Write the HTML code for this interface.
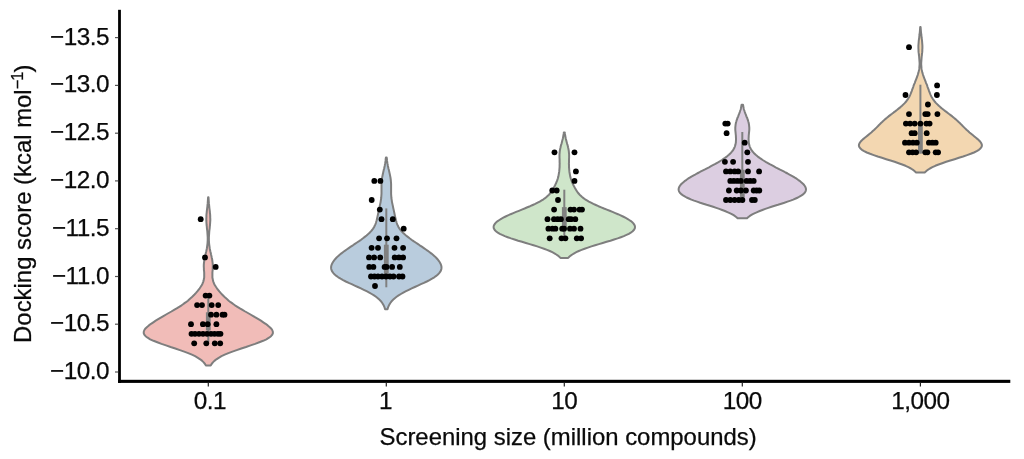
<!DOCTYPE html>
<html lang="en"><head><meta charset="utf-8"><title>Docking score vs screening size</title>
<style>
html,body{margin:0;padding:0;background:#fff;}
body{width:1024px;height:459px;overflow:hidden;}
svg{display:block;}
text{font-family:"Liberation Sans",Arial,Helvetica,sans-serif;fill:#0a0a0a;stroke:#0a0a0a;stroke-width:0.25px;}
.tk{letter-spacing:-0.5px;}
</style></head><body>
<svg width="1024" height="459" viewBox="0 0 1024 459">
<rect width="1024" height="459" fill="#ffffff"/>
<path d="M208.1 197.2 L208.0 198.7 L207.9 200.3 L207.8 201.8 L207.7 203.4 L207.5 204.9 L207.4 206.5 L207.2 208.0 L207.0 209.6 L206.8 211.1 L206.7 212.6 L206.5 214.2 L206.4 215.7 L206.4 217.3 L206.3 218.8 L206.3 220.4 L206.4 221.9 L206.5 223.4 L206.6 225.0 L206.8 226.5 L206.9 228.1 L207.1 229.6 L207.3 231.2 L207.4 232.7 L207.5 234.3 L207.6 235.8 L207.7 237.3 L207.7 238.9 L207.7 240.4 L207.6 242.0 L207.5 243.5 L207.3 245.1 L207.1 246.6 L206.9 248.2 L206.6 249.7 L206.3 251.2 L205.9 252.8 L205.6 254.3 L205.2 255.9 L204.9 257.4 L204.5 259.0 L204.3 260.5 L204.1 262.0 L203.9 263.6 L203.8 265.1 L203.8 266.7 L203.9 268.2 L203.9 269.8 L204.1 271.3 L204.2 272.9 L204.2 274.4 L204.2 275.9 L204.2 277.5 L203.9 279.0 L203.6 280.6 L203.1 282.1 L202.5 283.7 L201.7 285.2 L200.7 286.8 L199.7 288.3 L198.5 289.8 L197.3 291.4 L196.0 292.9 L194.5 294.5 L193.0 296.0 L191.4 297.6 L189.7 299.1 L187.9 300.7 L186.0 302.2 L183.8 303.7 L181.6 305.3 L179.2 306.8 L176.7 308.4 L174.1 309.9 L171.4 311.5 L168.7 313.0 L166.1 314.5 L163.4 316.1 L160.8 317.6 L158.2 319.2 L155.7 320.7 L153.3 322.3 L151.0 323.8 L148.9 325.4 L147.1 326.9 L145.5 328.4 L144.4 330.0 L143.8 331.5 L143.7 333.1 L144.3 334.6 L145.6 336.2 L147.6 337.7 L150.2 339.3 L153.5 340.8 L157.3 342.3 L161.5 343.9 L166.0 345.4 L170.6 347.0 L175.3 348.5 L179.9 350.1 L184.2 351.6 L188.2 353.1 L191.9 354.7 L195.1 356.2 L197.9 357.8 L200.2 359.3 L202.2 360.9 L203.7 362.4 L205.0 364.0 L205.9 365.5 L210.7 365.5 L211.6 364.0 L212.9 362.4 L214.4 360.9 L216.4 359.3 L218.7 357.8 L221.5 356.2 L224.7 354.7 L228.4 353.1 L232.4 351.6 L236.7 350.1 L241.3 348.5 L246.0 347.0 L250.6 345.4 L255.1 343.9 L259.3 342.3 L263.1 340.8 L266.4 339.3 L269.0 337.7 L271.0 336.2 L272.3 334.6 L272.9 333.1 L272.8 331.5 L272.2 330.0 L271.1 328.4 L269.5 326.9 L267.7 325.4 L265.6 323.8 L263.3 322.3 L260.9 320.7 L258.4 319.2 L255.8 317.6 L253.2 316.1 L250.5 314.5 L247.9 313.0 L245.2 311.5 L242.5 309.9 L239.9 308.4 L237.4 306.8 L235.0 305.3 L232.8 303.7 L230.6 302.2 L228.7 300.7 L226.9 299.1 L225.2 297.6 L223.6 296.0 L222.1 294.5 L220.6 292.9 L219.3 291.4 L218.1 289.8 L216.9 288.3 L215.9 286.8 L214.9 285.2 L214.1 283.7 L213.5 282.1 L213.0 280.6 L212.7 279.0 L212.4 277.5 L212.4 275.9 L212.4 274.4 L212.4 272.9 L212.5 271.3 L212.7 269.8 L212.7 268.2 L212.8 266.7 L212.8 265.1 L212.7 263.6 L212.5 262.0 L212.3 260.5 L212.1 259.0 L211.7 257.4 L211.4 255.9 L211.0 254.3 L210.7 252.8 L210.3 251.2 L210.0 249.7 L209.7 248.2 L209.5 246.6 L209.3 245.1 L209.1 243.5 L209.0 242.0 L208.9 240.4 L208.9 238.9 L208.9 237.3 L209.0 235.8 L209.1 234.3 L209.2 232.7 L209.3 231.2 L209.5 229.6 L209.7 228.1 L209.8 226.5 L210.0 225.0 L210.1 223.4 L210.2 221.9 L210.3 220.4 L210.3 218.8 L210.2 217.3 L210.2 215.7 L210.1 214.2 L209.9 212.6 L209.8 211.1 L209.6 209.6 L209.4 208.0 L209.2 206.5 L209.1 204.9 L208.9 203.4 L208.8 201.8 L208.7 200.3 L208.6 198.7 L208.5 197.2 Z" fill="#f1bcb8" stroke="#7e7e7e" stroke-width="2" stroke-linejoin="round"/>
<path d="M385.9 157.6 L385.7 159.0 L385.6 160.4 L385.4 161.8 L385.2 163.2 L384.9 164.6 L384.7 166.0 L384.4 167.3 L384.1 168.7 L383.7 170.1 L383.4 171.5 L383.1 172.9 L382.8 174.3 L382.5 175.7 L382.2 177.1 L382.0 178.5 L381.8 179.9 L381.7 181.3 L381.6 182.7 L381.5 184.0 L381.5 185.4 L381.5 186.8 L381.5 188.2 L381.5 189.6 L381.5 191.0 L381.5 192.4 L381.5 193.8 L381.4 195.2 L381.3 196.6 L381.2 198.0 L381.0 199.4 L380.8 200.7 L380.6 202.1 L380.3 203.5 L380.0 204.9 L379.7 206.3 L379.4 207.7 L379.1 209.1 L378.8 210.5 L378.5 211.9 L378.2 213.3 L377.9 214.7 L377.6 216.1 L377.3 217.4 L377.0 218.8 L376.7 220.2 L376.3 221.6 L375.9 223.0 L375.4 224.4 L374.7 225.8 L374.0 227.2 L373.1 228.6 L372.1 230.0 L370.9 231.4 L369.6 232.8 L368.2 234.1 L366.6 235.5 L364.8 236.9 L363.0 238.3 L361.1 239.7 L359.1 241.1 L357.0 242.5 L354.9 243.9 L352.9 245.3 L350.8 246.7 L348.7 248.1 L346.7 249.5 L344.8 250.8 L342.9 252.2 L341.1 253.6 L339.4 255.0 L337.8 256.4 L336.4 257.8 L335.1 259.2 L334.0 260.6 L333.0 262.0 L332.2 263.4 L331.6 264.8 L331.2 266.2 L331.1 267.5 L331.2 268.9 L331.6 270.3 L332.3 271.7 L333.4 273.1 L334.7 274.5 L336.4 275.9 L338.3 277.3 L340.6 278.7 L343.1 280.1 L345.8 281.5 L348.7 282.9 L351.7 284.2 L354.7 285.6 L357.8 287.0 L360.9 288.4 L363.8 289.8 L366.6 291.2 L369.3 292.6 L371.7 294.0 L374.0 295.4 L376.0 296.8 L377.8 298.2 L379.3 299.6 L380.7 300.9 L381.8 302.3 L382.7 303.7 L383.5 305.1 L384.2 306.5 L384.7 307.9 L385.1 309.3 L387.5 309.3 L387.9 307.9 L388.4 306.5 L389.1 305.1 L389.9 303.7 L390.8 302.3 L391.9 300.9 L393.3 299.6 L394.8 298.2 L396.6 296.8 L398.6 295.4 L400.9 294.0 L403.3 292.6 L406.0 291.2 L408.8 289.8 L411.7 288.4 L414.8 287.0 L417.9 285.6 L420.9 284.2 L423.9 282.9 L426.8 281.5 L429.5 280.1 L432.0 278.7 L434.3 277.3 L436.2 275.9 L437.9 274.5 L439.2 273.1 L440.3 271.7 L441.0 270.3 L441.4 268.9 L441.5 267.5 L441.4 266.2 L441.0 264.8 L440.4 263.4 L439.6 262.0 L438.6 260.6 L437.5 259.2 L436.2 257.8 L434.8 256.4 L433.2 255.0 L431.5 253.6 L429.7 252.2 L427.8 250.8 L425.9 249.5 L423.9 248.1 L421.8 246.7 L419.7 245.3 L417.7 243.9 L415.6 242.5 L413.5 241.1 L411.5 239.7 L409.6 238.3 L407.8 236.9 L406.0 235.5 L404.4 234.1 L403.0 232.8 L401.7 231.4 L400.5 230.0 L399.5 228.6 L398.6 227.2 L397.9 225.8 L397.2 224.4 L396.7 223.0 L396.3 221.6 L395.9 220.2 L395.6 218.8 L395.3 217.4 L395.0 216.1 L394.7 214.7 L394.4 213.3 L394.1 211.9 L393.8 210.5 L393.5 209.1 L393.2 207.7 L392.9 206.3 L392.6 204.9 L392.3 203.5 L392.0 202.1 L391.8 200.7 L391.6 199.4 L391.4 198.0 L391.3 196.6 L391.2 195.2 L391.1 193.8 L391.1 192.4 L391.1 191.0 L391.1 189.6 L391.1 188.2 L391.1 186.8 L391.1 185.4 L391.1 184.0 L391.0 182.7 L390.9 181.3 L390.8 179.9 L390.6 178.5 L390.4 177.1 L390.1 175.7 L389.8 174.3 L389.5 172.9 L389.2 171.5 L388.9 170.1 L388.5 168.7 L388.2 167.3 L387.9 166.0 L387.7 164.6 L387.4 163.2 L387.2 161.8 L387.0 160.4 L386.9 159.0 L386.7 157.6 Z" fill="#b9ccdd" stroke="#7e7e7e" stroke-width="2" stroke-linejoin="round"/>
<path d="M563.8 132.6 L563.7 133.7 L563.5 134.9 L563.3 136.0 L563.1 137.2 L562.9 138.3 L562.6 139.5 L562.3 140.6 L562.0 141.8 L561.7 142.9 L561.4 144.1 L561.0 145.2 L560.7 146.4 L560.5 147.5 L560.2 148.7 L560.0 149.8 L559.8 151.0 L559.7 152.1 L559.6 153.3 L559.5 154.4 L559.5 155.6 L559.5 156.7 L559.5 157.9 L559.6 159.0 L559.6 160.2 L559.6 161.3 L559.6 162.5 L559.7 163.6 L559.6 164.8 L559.6 165.9 L559.6 167.1 L559.5 168.2 L559.4 169.4 L559.3 170.5 L559.2 171.7 L559.0 172.8 L558.8 174.0 L558.6 175.1 L558.4 176.3 L558.1 177.4 L557.8 178.6 L557.4 179.7 L557.0 180.9 L556.5 182.0 L556.1 183.2 L555.5 184.3 L555.0 185.5 L554.4 186.6 L553.8 187.8 L553.1 188.9 L552.4 190.1 L551.7 191.2 L550.9 192.4 L550.0 193.5 L549.0 194.7 L547.8 195.8 L546.5 197.0 L545.1 198.1 L543.5 199.3 L541.7 200.4 L539.7 201.6 L537.6 202.7 L535.2 203.9 L532.8 205.0 L530.1 206.2 L527.4 207.3 L524.6 208.5 L521.8 209.6 L518.9 210.8 L516.1 211.9 L513.3 213.1 L510.6 214.2 L508.0 215.4 L505.6 216.5 L503.3 217.7 L501.2 218.8 L499.4 220.0 L497.7 221.1 L496.3 222.3 L495.2 223.4 L494.4 224.6 L493.8 225.7 L493.6 226.9 L493.7 228.0 L494.2 229.2 L495.0 230.3 L496.2 231.5 L497.8 232.6 L499.8 233.8 L502.1 234.9 L504.8 236.1 L507.7 237.2 L511.0 238.4 L514.5 239.5 L518.2 240.7 L522.0 241.8 L525.9 243.0 L529.7 244.1 L533.5 245.3 L537.2 246.4 L540.7 247.6 L544.0 248.7 L547.0 249.9 L549.8 251.0 L552.3 252.2 L554.4 253.3 L556.3 254.5 L557.9 255.6 L559.3 256.8 L560.4 257.9 L568.2 257.9 L569.3 256.8 L570.7 255.6 L572.3 254.5 L574.2 253.3 L576.3 252.2 L578.8 251.0 L581.6 249.9 L584.6 248.7 L587.9 247.6 L591.4 246.4 L595.1 245.3 L598.9 244.1 L602.7 243.0 L606.6 241.8 L610.4 240.7 L614.1 239.5 L617.6 238.4 L620.9 237.2 L623.8 236.1 L626.5 234.9 L628.8 233.8 L630.8 232.6 L632.4 231.5 L633.6 230.3 L634.4 229.2 L634.9 228.0 L635.0 226.9 L634.8 225.7 L634.2 224.6 L633.4 223.4 L632.3 222.3 L630.9 221.1 L629.2 220.0 L627.4 218.8 L625.3 217.7 L623.0 216.5 L620.6 215.4 L618.0 214.2 L615.3 213.1 L612.5 211.9 L609.7 210.8 L606.8 209.6 L604.0 208.5 L601.2 207.3 L598.5 206.2 L595.8 205.0 L593.4 203.9 L591.0 202.7 L588.9 201.6 L586.9 200.4 L585.1 199.3 L583.5 198.1 L582.1 197.0 L580.8 195.8 L579.6 194.7 L578.6 193.5 L577.7 192.4 L576.9 191.2 L576.2 190.1 L575.5 188.9 L574.8 187.8 L574.2 186.6 L573.6 185.5 L573.1 184.3 L572.5 183.2 L572.1 182.0 L571.6 180.9 L571.2 179.7 L570.8 178.6 L570.5 177.4 L570.2 176.3 L570.0 175.1 L569.8 174.0 L569.6 172.8 L569.4 171.7 L569.3 170.5 L569.2 169.4 L569.1 168.2 L569.0 167.1 L569.0 165.9 L569.0 164.8 L568.9 163.6 L569.0 162.5 L569.0 161.3 L569.0 160.2 L569.0 159.0 L569.1 157.9 L569.1 156.7 L569.1 155.6 L569.1 154.4 L569.0 153.3 L568.9 152.1 L568.8 151.0 L568.6 149.8 L568.4 148.7 L568.1 147.5 L567.9 146.4 L567.6 145.2 L567.2 144.1 L566.9 142.9 L566.6 141.8 L566.3 140.6 L566.0 139.5 L565.7 138.3 L565.5 137.2 L565.3 136.0 L565.1 134.9 L564.9 133.7 L564.8 132.6 Z" fill="#cfe6ca" stroke="#7e7e7e" stroke-width="2" stroke-linejoin="round"/>
<path d="M741.6 104.8 L741.4 105.8 L741.2 106.9 L741.0 107.9 L740.8 109.0 L740.5 110.0 L740.1 111.0 L739.8 112.1 L739.4 113.1 L739.0 114.2 L738.6 115.2 L738.2 116.3 L737.8 117.3 L737.3 118.3 L737.0 119.4 L736.6 120.4 L736.3 121.5 L736.0 122.5 L735.8 123.5 L735.6 124.6 L735.5 125.6 L735.4 126.7 L735.3 127.7 L735.3 128.7 L735.3 129.8 L735.4 130.8 L735.5 131.9 L735.6 132.9 L735.7 134.0 L735.8 135.0 L735.9 136.0 L735.9 137.1 L736.0 138.1 L736.0 139.2 L736.0 140.2 L735.9 141.2 L735.9 142.3 L735.7 143.3 L735.5 144.4 L735.2 145.4 L734.9 146.5 L734.5 147.5 L734.0 148.5 L733.4 149.6 L732.7 150.6 L731.9 151.7 L731.0 152.7 L730.0 153.7 L728.9 154.8 L727.7 155.8 L726.4 156.9 L725.0 157.9 L723.5 158.9 L721.9 160.0 L720.3 161.0 L718.5 162.1 L716.7 163.1 L714.9 164.2 L712.9 165.2 L711.0 166.2 L709.0 167.3 L707.0 168.3 L705.0 169.4 L703.0 170.4 L700.9 171.4 L699.0 172.5 L697.0 173.5 L695.1 174.6 L693.2 175.6 L691.4 176.6 L689.7 177.7 L688.0 178.7 L686.5 179.8 L685.0 180.8 L683.7 181.9 L682.5 182.9 L681.4 183.9 L680.5 185.0 L679.8 186.0 L679.2 187.1 L678.8 188.1 L678.6 189.1 L678.7 190.2 L679.0 191.2 L679.6 192.3 L680.4 193.3 L681.6 194.4 L683.0 195.4 L684.7 196.4 L686.6 197.5 L688.9 198.5 L691.4 199.6 L694.1 200.6 L697.1 201.6 L700.2 202.7 L703.3 203.7 L706.6 204.8 L709.9 205.8 L713.1 206.8 L716.3 207.9 L719.3 208.9 L722.2 210.0 L724.9 211.0 L727.4 212.1 L729.7 213.1 L731.8 214.1 L733.6 215.2 L735.1 216.2 L736.5 217.3 L737.6 218.3 L747.0 218.3 L748.1 217.3 L749.5 216.2 L751.0 215.2 L752.8 214.1 L754.9 213.1 L757.2 212.1 L759.7 211.0 L762.4 210.0 L765.3 208.9 L768.3 207.9 L771.5 206.8 L774.7 205.8 L778.0 204.8 L781.3 203.7 L784.4 202.7 L787.5 201.6 L790.5 200.6 L793.2 199.6 L795.7 198.5 L798.0 197.5 L799.9 196.4 L801.6 195.4 L803.0 194.4 L804.2 193.3 L805.0 192.3 L805.6 191.2 L805.9 190.2 L806.0 189.1 L805.8 188.1 L805.4 187.1 L804.8 186.0 L804.1 185.0 L803.2 183.9 L802.1 182.9 L800.9 181.9 L799.6 180.8 L798.1 179.8 L796.6 178.7 L794.9 177.7 L793.2 176.6 L791.4 175.6 L789.5 174.6 L787.6 173.5 L785.6 172.5 L783.7 171.4 L781.6 170.4 L779.6 169.4 L777.6 168.3 L775.6 167.3 L773.6 166.2 L771.7 165.2 L769.7 164.2 L767.9 163.1 L766.1 162.1 L764.3 161.0 L762.7 160.0 L761.1 158.9 L759.6 157.9 L758.2 156.9 L756.9 155.8 L755.7 154.8 L754.6 153.7 L753.6 152.7 L752.7 151.7 L751.9 150.6 L751.2 149.6 L750.6 148.5 L750.1 147.5 L749.7 146.5 L749.4 145.4 L749.1 144.4 L748.9 143.3 L748.7 142.3 L748.7 141.2 L748.6 140.2 L748.6 139.2 L748.6 138.1 L748.7 137.1 L748.7 136.0 L748.8 135.0 L748.9 134.0 L749.0 132.9 L749.1 131.9 L749.2 130.8 L749.3 129.8 L749.3 128.7 L749.3 127.7 L749.2 126.7 L749.1 125.6 L749.0 124.6 L748.8 123.5 L748.6 122.5 L748.3 121.5 L748.0 120.4 L747.6 119.4 L747.3 118.3 L746.8 117.3 L746.4 116.3 L746.0 115.2 L745.6 114.2 L745.2 113.1 L744.8 112.1 L744.5 111.0 L744.1 110.0 L743.8 109.0 L743.6 107.9 L743.4 106.9 L743.2 105.8 L743.0 104.8 Z" fill="#dccee1" stroke="#7e7e7e" stroke-width="2" stroke-linejoin="round"/>
<path d="M920.2 27.0 L920.1 28.3 L920.0 29.7 L919.9 31.0 L919.8 32.3 L919.6 33.7 L919.5 35.0 L919.3 36.3 L919.2 37.7 L919.0 39.0 L918.8 40.3 L918.7 41.7 L918.6 43.0 L918.5 44.4 L918.4 45.7 L918.4 47.0 L918.4 48.4 L918.5 49.7 L918.5 51.0 L918.6 52.4 L918.8 53.7 L918.9 55.0 L919.1 56.4 L919.2 57.7 L919.3 59.0 L919.4 60.4 L919.5 61.7 L919.6 63.0 L919.6 64.4 L919.5 65.7 L919.4 67.0 L919.3 68.4 L919.1 69.7 L918.8 71.1 L918.5 72.4 L918.1 73.7 L917.7 75.1 L917.2 76.4 L916.8 77.7 L916.2 79.1 L915.7 80.4 L915.2 81.7 L914.7 83.1 L914.1 84.4 L913.6 85.7 L913.2 87.1 L912.7 88.4 L912.2 89.7 L911.7 91.1 L911.2 92.4 L910.7 93.7 L910.1 95.1 L909.5 96.4 L908.7 97.7 L907.9 99.1 L906.9 100.4 L905.9 101.8 L904.7 103.1 L903.4 104.4 L902.0 105.8 L900.5 107.1 L898.9 108.4 L897.2 109.8 L895.5 111.1 L893.7 112.4 L892.0 113.8 L890.2 115.1 L888.5 116.4 L886.9 117.8 L885.3 119.1 L883.8 120.4 L882.4 121.8 L881.0 123.1 L879.6 124.4 L878.3 125.8 L877.0 127.1 L875.7 128.4 L874.3 129.8 L872.8 131.1 L871.3 132.5 L869.7 133.8 L868.1 135.1 L866.4 136.5 L864.8 137.8 L863.2 139.1 L861.7 140.5 L860.5 141.8 L859.6 143.1 L859.0 144.5 L858.9 145.8 L859.4 147.1 L860.4 148.5 L861.9 149.8 L864.1 151.1 L866.8 152.5 L870.1 153.8 L873.7 155.1 L877.7 156.5 L881.9 157.8 L886.2 159.2 L890.5 160.5 L894.6 161.8 L898.6 163.2 L902.2 164.5 L905.5 165.8 L908.4 167.2 L910.9 168.5 L913.0 169.8 L914.7 171.2 L916.1 172.5 L924.7 172.5 L926.1 171.2 L927.8 169.8 L929.9 168.5 L932.4 167.2 L935.3 165.8 L938.6 164.5 L942.2 163.2 L946.2 161.8 L950.3 160.5 L954.6 159.2 L958.9 157.8 L963.1 156.5 L967.1 155.1 L970.7 153.8 L974.0 152.5 L976.7 151.1 L978.9 149.8 L980.4 148.5 L981.4 147.1 L981.9 145.8 L981.8 144.5 L981.2 143.1 L980.3 141.8 L979.1 140.5 L977.6 139.1 L976.0 137.8 L974.4 136.5 L972.7 135.1 L971.1 133.8 L969.5 132.5 L968.0 131.1 L966.5 129.8 L965.1 128.4 L963.8 127.1 L962.5 125.8 L961.2 124.4 L959.8 123.1 L958.4 121.8 L957.0 120.4 L955.5 119.1 L953.9 117.8 L952.3 116.4 L950.6 115.1 L948.8 113.8 L947.1 112.4 L945.3 111.1 L943.6 109.8 L941.9 108.4 L940.3 107.1 L938.8 105.8 L937.4 104.4 L936.1 103.1 L934.9 101.8 L933.9 100.4 L932.9 99.1 L932.1 97.7 L931.3 96.4 L930.7 95.1 L930.1 93.7 L929.6 92.4 L929.1 91.1 L928.6 89.7 L928.1 88.4 L927.6 87.1 L927.2 85.7 L926.7 84.4 L926.1 83.1 L925.6 81.7 L925.1 80.4 L924.6 79.1 L924.0 77.7 L923.6 76.4 L923.1 75.1 L922.7 73.7 L922.3 72.4 L922.0 71.1 L921.7 69.7 L921.5 68.4 L921.4 67.0 L921.3 65.7 L921.2 64.4 L921.2 63.0 L921.3 61.7 L921.4 60.4 L921.5 59.0 L921.6 57.7 L921.7 56.4 L921.9 55.0 L922.0 53.7 L922.2 52.4 L922.3 51.0 L922.3 49.7 L922.4 48.4 L922.4 47.0 L922.4 45.7 L922.3 44.4 L922.2 43.0 L922.1 41.7 L922.0 40.3 L921.8 39.0 L921.6 37.7 L921.5 36.3 L921.3 35.0 L921.2 33.7 L921.0 32.3 L920.9 31.0 L920.8 29.7 L920.7 28.3 L920.6 27.0 Z" fill="#f3d7b1" stroke="#7e7e7e" stroke-width="2" stroke-linejoin="round"/>
<line x1="208.3" y1="296.5" x2="208.3" y2="342.5" stroke="#808080" stroke-width="2"/>
<line x1="208.3" y1="312.3" x2="208.3" y2="330.5" stroke="#808080" stroke-width="4.8"/>
<line x1="386.3" y1="208.4" x2="386.3" y2="287.3" stroke="#808080" stroke-width="2"/>
<line x1="386.3" y1="244.7" x2="386.3" y2="276.5" stroke="#808080" stroke-width="4.8"/>
<line x1="564.3" y1="189.7" x2="564.3" y2="238.0" stroke="#808080" stroke-width="2"/>
<line x1="564.3" y1="207.1" x2="564.3" y2="227.0" stroke="#808080" stroke-width="4.8"/>
<line x1="742.3" y1="132.0" x2="742.3" y2="200.5" stroke="#808080" stroke-width="2"/>
<line x1="742.3" y1="169.8" x2="742.3" y2="197.5" stroke="#808080" stroke-width="4.8"/>
<line x1="920.4" y1="84.7" x2="920.4" y2="153.5" stroke="#808080" stroke-width="2"/>
<line x1="920.4" y1="124.5" x2="920.4" y2="153.5" stroke="#808080" stroke-width="4.8"/>
<g fill="#000000">
<circle cx="200.7" cy="219.2" r="2.9"/>
<circle cx="205.0" cy="257.4" r="2.9"/>
<circle cx="215.7" cy="266.9" r="2.9"/>
<circle cx="205.6" cy="295.6" r="2.9"/>
<circle cx="209.4" cy="295.6" r="2.9"/>
<circle cx="197.1" cy="305.1" r="2.9"/>
<circle cx="202.0" cy="305.1" r="2.9"/>
<circle cx="211.7" cy="305.1" r="2.9"/>
<circle cx="218.2" cy="305.1" r="2.9"/>
<circle cx="211.0" cy="314.7" r="2.9"/>
<circle cx="216.4" cy="314.7" r="2.9"/>
<circle cx="222.5" cy="314.7" r="2.9"/>
<circle cx="224.5" cy="314.7" r="2.9"/>
<circle cx="191.0" cy="324.2" r="2.9"/>
<circle cx="202.9" cy="324.2" r="2.9"/>
<circle cx="207.7" cy="324.2" r="2.9"/>
<circle cx="216.4" cy="324.2" r="2.9"/>
<circle cx="191.5" cy="333.8" r="2.9"/>
<circle cx="195.0" cy="333.8" r="2.9"/>
<circle cx="199.0" cy="333.8" r="2.9"/>
<circle cx="203.0" cy="333.8" r="2.9"/>
<circle cx="207.0" cy="333.8" r="2.9"/>
<circle cx="211.0" cy="333.8" r="2.9"/>
<circle cx="214.5" cy="333.8" r="2.9"/>
<circle cx="218.0" cy="333.8" r="2.9"/>
<circle cx="220.5" cy="333.8" r="2.9"/>
<circle cx="194.2" cy="343.3" r="2.9"/>
<circle cx="206.3" cy="343.3" r="2.9"/>
<circle cx="214.8" cy="343.3" r="2.9"/>
<circle cx="220.2" cy="343.3" r="2.9"/>
<circle cx="374.3" cy="180.9" r="2.9"/>
<circle cx="380.4" cy="180.9" r="2.9"/>
<circle cx="371.7" cy="200.0" r="2.9"/>
<circle cx="379.8" cy="209.6" r="2.9"/>
<circle cx="381.5" cy="219.2" r="2.9"/>
<circle cx="392.8" cy="219.2" r="2.9"/>
<circle cx="403.7" cy="228.7" r="2.9"/>
<circle cx="379.1" cy="238.3" r="2.9"/>
<circle cx="387.0" cy="238.3" r="2.9"/>
<circle cx="396.5" cy="238.3" r="2.9"/>
<circle cx="371.6" cy="247.8" r="2.9"/>
<circle cx="378.0" cy="247.8" r="2.9"/>
<circle cx="394.5" cy="247.8" r="2.9"/>
<circle cx="403.1" cy="247.8" r="2.9"/>
<circle cx="369.0" cy="257.4" r="2.9"/>
<circle cx="374.1" cy="257.4" r="2.9"/>
<circle cx="380.2" cy="257.4" r="2.9"/>
<circle cx="394.7" cy="257.4" r="2.9"/>
<circle cx="398.9" cy="257.4" r="2.9"/>
<circle cx="403.1" cy="257.4" r="2.9"/>
<circle cx="369.2" cy="266.9" r="2.9"/>
<circle cx="373.4" cy="266.9" r="2.9"/>
<circle cx="384.6" cy="266.9" r="2.9"/>
<circle cx="386.5" cy="266.9" r="2.9"/>
<circle cx="392.1" cy="266.9" r="2.9"/>
<circle cx="399.8" cy="266.9" r="2.9"/>
<circle cx="371.0" cy="276.5" r="2.9"/>
<circle cx="374.5" cy="276.5" r="2.9"/>
<circle cx="378.0" cy="276.5" r="2.9"/>
<circle cx="382.0" cy="276.5" r="2.9"/>
<circle cx="386.0" cy="276.5" r="2.9"/>
<circle cx="390.0" cy="276.5" r="2.9"/>
<circle cx="393.5" cy="276.5" r="2.9"/>
<circle cx="399.0" cy="276.5" r="2.9"/>
<circle cx="402.5" cy="276.5" r="2.9"/>
<circle cx="375.0" cy="286.0" r="2.9"/>
<circle cx="554.5" cy="152.3" r="2.9"/>
<circle cx="574.5" cy="152.3" r="2.9"/>
<circle cx="575.9" cy="171.4" r="2.9"/>
<circle cx="574.5" cy="180.9" r="2.9"/>
<circle cx="552.3" cy="190.5" r="2.9"/>
<circle cx="556.7" cy="190.5" r="2.9"/>
<circle cx="558.0" cy="200.0" r="2.9"/>
<circle cx="554.1" cy="209.6" r="2.9"/>
<circle cx="570.5" cy="209.6" r="2.9"/>
<circle cx="574.0" cy="209.6" r="2.9"/>
<circle cx="579.5" cy="209.6" r="2.9"/>
<circle cx="582.0" cy="209.6" r="2.9"/>
<circle cx="547.5" cy="219.2" r="2.9"/>
<circle cx="554.0" cy="219.2" r="2.9"/>
<circle cx="557.6" cy="219.2" r="2.9"/>
<circle cx="560.9" cy="219.2" r="2.9"/>
<circle cx="568.7" cy="219.2" r="2.9"/>
<circle cx="571.0" cy="219.2" r="2.9"/>
<circle cx="575.3" cy="219.2" r="2.9"/>
<circle cx="548.4" cy="228.7" r="2.9"/>
<circle cx="552.4" cy="228.7" r="2.9"/>
<circle cx="555.4" cy="228.7" r="2.9"/>
<circle cx="562.2" cy="228.7" r="2.9"/>
<circle cx="564.1" cy="228.7" r="2.9"/>
<circle cx="570.0" cy="228.7" r="2.9"/>
<circle cx="574.0" cy="228.7" r="2.9"/>
<circle cx="580.5" cy="228.7" r="2.9"/>
<circle cx="549.7" cy="238.3" r="2.9"/>
<circle cx="561.5" cy="238.3" r="2.9"/>
<circle cx="565.4" cy="238.3" r="2.9"/>
<circle cx="576.8" cy="238.3" r="2.9"/>
<circle cx="581.1" cy="238.3" r="2.9"/>
<circle cx="725.3" cy="123.6" r="2.9"/>
<circle cx="727.7" cy="123.6" r="2.9"/>
<circle cx="726.6" cy="133.2" r="2.9"/>
<circle cx="744.7" cy="142.7" r="2.9"/>
<circle cx="747.3" cy="152.3" r="2.9"/>
<circle cx="724.9" cy="161.8" r="2.9"/>
<circle cx="733.1" cy="161.8" r="2.9"/>
<circle cx="748.0" cy="161.8" r="2.9"/>
<circle cx="726.0" cy="171.4" r="2.9"/>
<circle cx="730.3" cy="171.4" r="2.9"/>
<circle cx="734.6" cy="171.4" r="2.9"/>
<circle cx="738.1" cy="171.4" r="2.9"/>
<circle cx="748.0" cy="171.4" r="2.9"/>
<circle cx="759.1" cy="171.4" r="2.9"/>
<circle cx="730.3" cy="180.9" r="2.9"/>
<circle cx="733.8" cy="180.9" r="2.9"/>
<circle cx="737.4" cy="180.9" r="2.9"/>
<circle cx="740.9" cy="180.9" r="2.9"/>
<circle cx="746.6" cy="180.9" r="2.9"/>
<circle cx="750.1" cy="180.9" r="2.9"/>
<circle cx="753.7" cy="180.9" r="2.9"/>
<circle cx="728.9" cy="190.5" r="2.9"/>
<circle cx="736.7" cy="190.5" r="2.9"/>
<circle cx="740.9" cy="190.5" r="2.9"/>
<circle cx="745.9" cy="190.5" r="2.9"/>
<circle cx="753.7" cy="190.5" r="2.9"/>
<circle cx="756.6" cy="190.5" r="2.9"/>
<circle cx="759.3" cy="190.5" r="2.9"/>
<circle cx="726.0" cy="200.0" r="2.9"/>
<circle cx="730.3" cy="200.0" r="2.9"/>
<circle cx="734.6" cy="200.0" r="2.9"/>
<circle cx="738.8" cy="200.0" r="2.9"/>
<circle cx="742.4" cy="200.0" r="2.9"/>
<circle cx="752.0" cy="200.0" r="2.9"/>
<circle cx="754.8" cy="200.0" r="2.9"/>
<circle cx="909.0" cy="47.2" r="2.9"/>
<circle cx="937.1" cy="85.4" r="2.9"/>
<circle cx="905.5" cy="95.0" r="2.9"/>
<circle cx="936.9" cy="95.0" r="2.9"/>
<circle cx="927.9" cy="104.5" r="2.9"/>
<circle cx="909.0" cy="114.1" r="2.9"/>
<circle cx="925.3" cy="114.1" r="2.9"/>
<circle cx="927.7" cy="114.1" r="2.9"/>
<circle cx="937.4" cy="114.1" r="2.9"/>
<circle cx="905.9" cy="123.6" r="2.9"/>
<circle cx="910.1" cy="123.6" r="2.9"/>
<circle cx="914.7" cy="123.6" r="2.9"/>
<circle cx="920.4" cy="123.6" r="2.9"/>
<circle cx="926.4" cy="123.6" r="2.9"/>
<circle cx="929.6" cy="123.6" r="2.9"/>
<circle cx="911.6" cy="133.2" r="2.9"/>
<circle cx="914.7" cy="133.2" r="2.9"/>
<circle cx="926.7" cy="133.2" r="2.9"/>
<circle cx="905.0" cy="142.7" r="2.9"/>
<circle cx="909.0" cy="142.7" r="2.9"/>
<circle cx="913.0" cy="142.7" r="2.9"/>
<circle cx="916.8" cy="142.7" r="2.9"/>
<circle cx="928.9" cy="142.7" r="2.9"/>
<circle cx="932.4" cy="142.7" r="2.9"/>
<circle cx="935.7" cy="142.7" r="2.9"/>
<circle cx="909.0" cy="152.3" r="2.9"/>
<circle cx="912.6" cy="152.3" r="2.9"/>
<circle cx="916.1" cy="152.3" r="2.9"/>
<circle cx="925.3" cy="152.3" r="2.9"/>
<circle cx="927.4" cy="152.3" r="2.9"/>
<circle cx="935.7" cy="152.3" r="2.9"/>
<circle cx="938.1" cy="152.3" r="2.9"/>
</g>
<rect x="118.1" y="9.8" width="2.8" height="373.1" fill="#000"/>
<rect x="118.1" y="379.8" width="892.2" height="3.1" fill="#000"/>
<line x1="115.0" y1="372.0" x2="118.2" y2="372.0" stroke="#555" stroke-width="1.2"/>
<text class="tk" x="109.1" y="379.0" font-size="24.3" text-anchor="end">−10.0</text>
<line x1="115.0" y1="324.2" x2="118.2" y2="324.2" stroke="#555" stroke-width="1.2"/>
<text class="tk" x="109.1" y="331.2" font-size="24.3" text-anchor="end">−10.5</text>
<line x1="115.0" y1="276.5" x2="118.2" y2="276.5" stroke="#555" stroke-width="1.2"/>
<text class="tk" x="109.1" y="283.5" font-size="24.3" text-anchor="end">−11.0</text>
<line x1="115.0" y1="228.7" x2="118.2" y2="228.7" stroke="#555" stroke-width="1.2"/>
<text class="tk" x="109.1" y="235.7" font-size="24.3" text-anchor="end">−11.5</text>
<line x1="115.0" y1="180.9" x2="118.2" y2="180.9" stroke="#555" stroke-width="1.2"/>
<text class="tk" x="109.1" y="187.9" font-size="24.3" text-anchor="end">−12.0</text>
<line x1="115.0" y1="133.2" x2="118.2" y2="133.2" stroke="#555" stroke-width="1.2"/>
<text class="tk" x="109.1" y="140.2" font-size="24.3" text-anchor="end">−12.5</text>
<line x1="115.0" y1="85.4" x2="118.2" y2="85.4" stroke="#555" stroke-width="1.2"/>
<text class="tk" x="109.1" y="92.4" font-size="24.3" text-anchor="end">−13.0</text>
<line x1="115.0" y1="37.6" x2="118.2" y2="37.6" stroke="#555" stroke-width="1.2"/>
<text class="tk" x="109.1" y="44.6" font-size="24.3" text-anchor="end">−13.5</text>
<line x1="208.3" y1="382.5" x2="208.3" y2="386.6" stroke="#222" stroke-width="1.2"/>
<text class="tk" x="209.8" y="408.8" font-size="24.3" text-anchor="middle">0.1</text>
<line x1="386.3" y1="382.5" x2="386.3" y2="386.6" stroke="#222" stroke-width="1.2"/>
<text class="tk" x="385.5" y="408.8" font-size="24.3" text-anchor="middle">1</text>
<line x1="564.3" y1="382.5" x2="564.3" y2="386.6" stroke="#222" stroke-width="1.2"/>
<text class="tk" x="564.3" y="408.8" font-size="24.3" text-anchor="middle">10</text>
<line x1="742.3" y1="382.5" x2="742.3" y2="386.6" stroke="#222" stroke-width="1.2"/>
<text class="tk" x="742.3" y="408.8" font-size="24.3" text-anchor="middle">100</text>
<line x1="920.4" y1="382.5" x2="920.4" y2="386.6" stroke="#222" stroke-width="1.2"/>
<text class="tk" x="920.4" y="408.8" font-size="24.3" text-anchor="middle">1,000</text>
<text x="568.1" y="444.6" font-size="23.9" text-anchor="middle">Screening size (million compounds)</text>
<text transform="translate(31.0 342.9) rotate(-90)" font-size="23.9">Docking score (kcal mol<tspan font-size="16.5" dy="-8.5" letter-spacing="-1">−1</tspan><tspan dy="8.5">)</tspan></text>
</svg></body></html>
